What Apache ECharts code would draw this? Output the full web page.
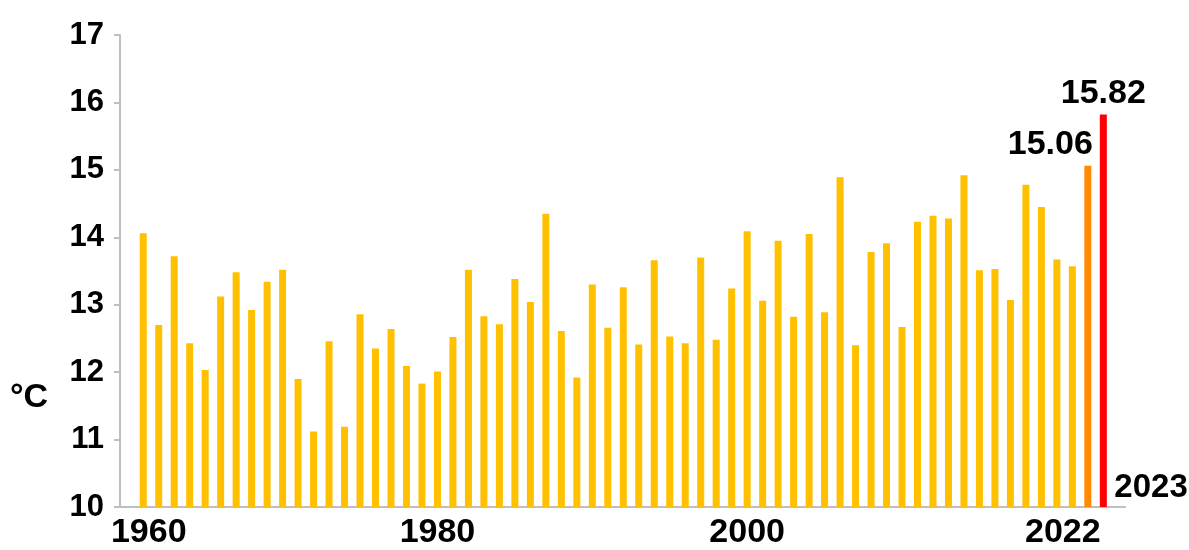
<!DOCTYPE html>
<html>
<head>
<meta charset="utf-8">
<script src="https://cdn.jsdelivr.net/npm/echarts@6/dist/echarts.min.js"></script>
<style>
  html, body { margin: 0; padding: 0; background: #fff; }
  #chart { width: 1189px; height: 550px; }
</style>
</head>
<body>
<div id="chart"></div>
<script>
// yearly mean temperature, 1961-2023
const years = [];
for (let y = 1961; y <= 2023; y++) years.push(y);
const temps = [
  14.06, 12.70, 13.72, 12.43, 12.03, 13.12, 13.48, 12.92, 13.34, 13.52, 11.90, 11.12, 12.46, 11.19, 12.86, 12.35, 12.64,
  12.09, 11.83, 12.01, 12.52, 13.52, 12.83, 12.71, 13.38, 13.04, 14.35, 12.61, 11.92, 13.30, 12.66, 13.26, 12.41, 13.66,
  12.53, 12.43, 13.70, 12.48, 13.24, 14.09, 13.06, 13.95,
  12.82, 14.05, 12.89, 14.89, 12.40, 13.78, 13.91, 12.67, 14.23, 14.32, 14.28, 14.92, 13.51, 13.53, 13.07, 14.78, 14.45,
  13.67, 13.57, 15.06, 15.82
];
const xTickYears = [1960, 1980, 2000, 2022];
const lastYear = 2023;

const FONT = '"Liberation Sans Narrow", "Arial Narrow", "Liberation Sans", Arial, sans-serif';

const barData = years.map((y, i) => {
  const item = { value: [y, temps[i]] };
  if (y === 2022) {
    item.itemStyle = { color: '#FF8A00' };
    item.label = { show: true, position: 'top', align: 'right', offset: [5, 0], formatter: temps[i].toFixed(2) };
  } else if (y === 2023) {
    item.itemStyle = { color: '#FF0000' };
    item.label = { show: true, position: 'top', formatter: temps[i].toFixed(2) };
  }
  return item;
});

let myChart = echarts.init(document.getElementById('chart'));
const option = {
  animation: false,
  grid: { left: 120, right: 64, top: 35, bottom: 42 },
  textStyle: { fontFamily: FONT },
  xAxis: {
    type: 'value',
    min: 1959.5,
    max: 2024.4,
    splitLine: { show: false },
    axisLine: { show: true, lineStyle: { color: '#BFBFBF', width: 2 } },
    axisTick: { show: false },
    axisLabel: {
      customValues: xTickYears,
      margin: 9,
      fontFamily: FONT,
      fontWeight: 'bold',
      fontSize: 34,
      color: '#000',
      formatter: (v) => {
        if (v === 1960) return '{a|' + v + '}';
        if (v === 2022) return '{b|' + v + '}';
        return String(v);
      },
      rich: {
        a: { fontFamily: FONT, fontWeight: 'bold', fontSize: 34, color: '#000', padding: [0, 0, 0, 42] },
        b: { fontFamily: FONT, fontWeight: 'bold', fontSize: 34, color: '#000', padding: [0, 50, 0, 0] }
      }
    }
  },
  yAxis: {
    type: 'value',
    min: 10,
    max: 17,
    interval: 1,
    splitLine: { show: false },
    axisLine: { show: true, lineStyle: { color: '#BFBFBF', width: 2 } },
    axisTick: { show: true, length: 6, lineStyle: { color: '#BFBFBF', width: 2 } },
    axisLabel: { margin: 16, fontFamily: FONT, fontWeight: 'bold', fontSize: 31, color: '#000' }
  },
  graphic: [{
    type: 'text',
    left: 10,
    top: 381,
    style: { text: '°C', fontFamily: FONT, fontWeight: 'bold', fontSize: 34, fill: '#000' }
  }],
  series: [
    {
      type: 'bar',
      barWidth: 7,
      itemStyle: { color: '#FFC000' },
      label: { show: false, fontFamily: FONT, fontWeight: 'bold', fontSize: 34, color: '#000', distance: 4 },
      data: barData
    }
  ]
};
myChart.setOption(option);

// year tag for the last bar, sitting on the baseline right of it
const p = myChart.convertToPixel({ gridIndex: 0 }, [lastYear, 10]);
myChart.setOption({
  graphic: [{
    type: 'text',
    id: 'lastYear',
    x: p[0] + 11,
    y: p[1] - 3,
    style: {
      text: String(lastYear),
      fontFamily: FONT, fontWeight: 'bold', fontSize: 33, fill: '#000',
      align: 'left', verticalAlign: 'bottom'
    }
  }]
});
</script>
</body>
</html>
